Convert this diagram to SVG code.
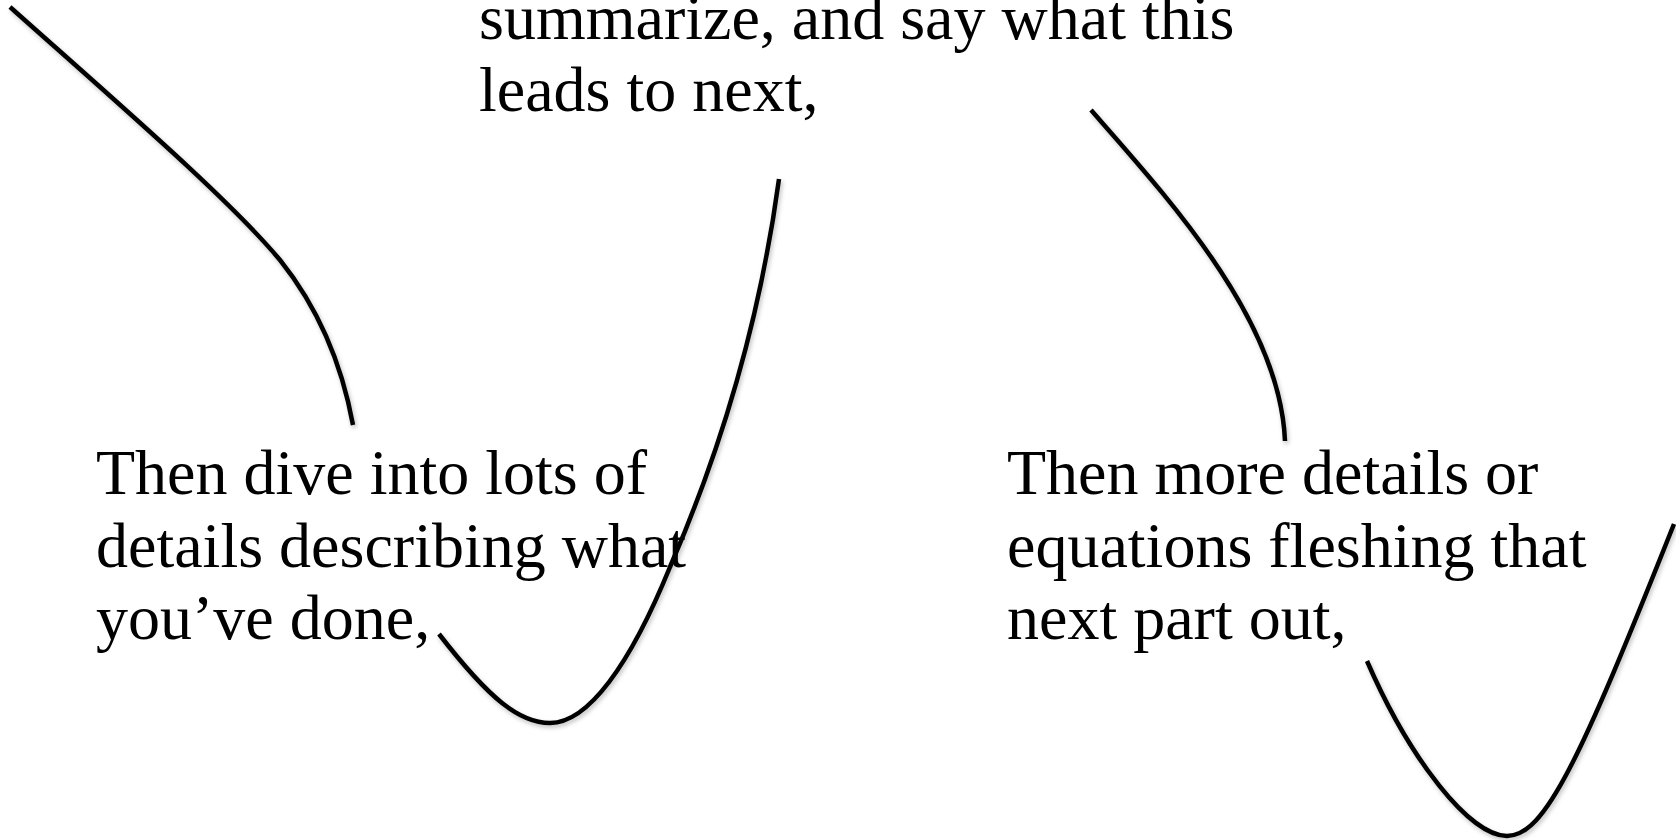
<svg xmlns="http://www.w3.org/2000/svg" width="1676" height="840" viewBox="0 0 1676 840">
  <defs>
    <filter id="shadow" x="-10%" y="-10%" width="120%" height="120%">
      <feDropShadow dx="1.5" dy="2.5" stdDeviation="2" flood-color="#000" flood-opacity="0.25"/>
    </filter>
  </defs>
  <style>
    .label { font-family: "Liberation Serif", "Times New Roman", serif; font-size: 64px; fill: #000; }
    .curve { fill: none; stroke: #000; stroke-width: 4.5; stroke-linecap: butt; filter: url(#shadow); }
  </style>
  <rect width="1676" height="840" fill="#fff"/>
  <g id="connectors">
    <path class="curve" d="M10,7 C120,105 230,200 280,260 C320,310 342,365 353,425"/>
    <path class="curve" d="M439,634 C490,700 520,723 550,723 C588,723 630,665 670,567 C720,452 760,320 779,179"/>
    <path class="curve" d="M1091,110 C1170,200 1280,320 1285,441"/>
    <path class="curve" d="M1367,661 C1410,760 1470,836 1507,836 C1545,836 1580,760 1674,524"/>
  </g>
  <g id="node-top">
    <text class="label" x="479" y="39">summarize, and say what this</text>
    <text class="label" x="479" y="111">leads to next,</text>
  </g>
  <g id="node-left">
    <text class="label" x="96" y="494">Then dive into lots of</text>
    <text class="label" x="96" y="566.5">details describing what</text>
    <text class="label" x="96" y="639">you’ve done,</text>
  </g>
  <g id="node-right">
    <text class="label" x="1007" y="494">Then more details or</text>
    <text class="label" x="1007" y="566.5">equations fleshing that</text>
    <text class="label" x="1007" y="639">next part out,</text>
  </g>
</svg>
